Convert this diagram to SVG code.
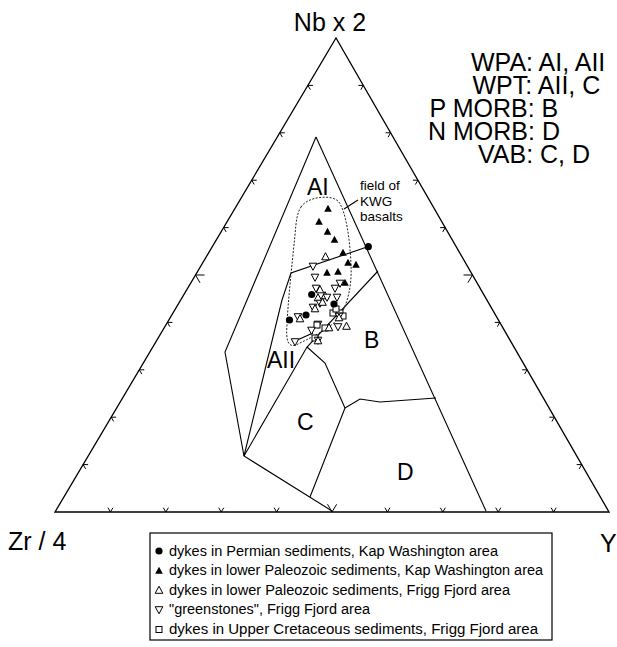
<svg xmlns="http://www.w3.org/2000/svg" width="617" height="647" viewBox="0 0 617 647">
<style>
.frame{fill:none;stroke:#000;stroke-width:1.3}
.tick{fill:none;stroke:#000;stroke-width:1}
.field{fill:none;stroke:#000;stroke-width:1.1}
.kwg{fill:none;stroke:#222;stroke-width:1;stroke-dasharray:2 1.5}
.big{font-family:"Liberation Sans",Arial,sans-serif;font-size:25px;fill:#000}
.reg{font-family:"Liberation Sans",Arial,sans-serif;font-size:23px;fill:#000}
.small{font-family:"Liberation Sans",Arial,sans-serif;font-size:13.5px;fill:#000}
.leg{font-family:"Liberation Sans",Arial,sans-serif;font-size:14px;fill:#000}
</style>
<defs>
<circle id="fc" r="3.6" fill="#000"/>
<path id="ft" d="M0,-4.3L3.8,2.8L-3.8,2.8Z" fill="#000"/>
<path id="ot" d="M0,-4.3L3.8,2.8L-3.8,2.8Z" fill="#fff" stroke="#000" stroke-width="1"/>
<path id="it" d="M0,4.3L3.8,-2.8L-3.8,-2.8Z" fill="#fff" stroke="#000" stroke-width="1"/>
<rect id="sq" x="-3" y="-3" width="6" height="6" fill="#fff" stroke="#000" stroke-width="1"/>
</defs>
<rect width="617" height="647" fill="#fff"/>

<g id="frame">
<path class="frame" d="M55,512 L336,38 L609,512 Z"/>
<path class="tick" d="M88.1,464.6L83.1,464.6L85.6,468.9 M116.2,417.2L111.2,417.2L113.7,421.5 M144.3,369.8L139.3,369.8L141.8,374.1 M172.4,322.4L167.4,322.4L169.9,326.7 M204.5,275L195.5,275L200,282.8 M228.6,227.6L223.6,227.6L226.1,231.9 M256.7,180.2L251.7,180.2L254.2,184.5 M284.8,132.8L279.8,132.8L282.3,137.1 M312.9,85.4L307.9,85.4L310.4,89.7"/>
<path class="tick" d="M576.7,464.6L581.7,464.6L579.2,468.9 M549.4,417.2L554.4,417.2L551.9,421.5 M522.1,369.8L527.1,369.8L524.6,374.1 M494.8,322.4L499.8,322.4L497.3,326.7 M463.5,275L472.5,275L467.9,282.7 M440.2,227.6L445.2,227.6L442.7,231.9 M412.9,180.2L417.9,180.2L415.4,184.5 M385.6,132.8L390.6,132.8L388.1,137.1 M358.3,85.4L363.3,85.4L360.8,89.7"/>
<path class="tick" d="M108,507.7L110.4,512L113,507.7 M163.3,507.7L165.8,512L168.4,507.7 M218.7,507.7L221.2,512L223.8,507.7 M274.1,507.7L276.6,512L279.2,507.7 M327.5,504.2L332,512L336.6,504.3 M384.9,507.7L387.4,512L390,507.7 M440.3,507.7L442.8,512L445.4,507.7 M495.7,507.7L498.2,512L500.8,507.7 M551.1,507.7L553.6,512L556.2,507.7"/>
</g>

<g id="fields">
<path class="field" d="M316,137 L225,352 L244,456 L332,511"/>
<path class="field" d="M316,137 L486,511"/>
<path class="field" d="M244,456 L282,300 L291,273 L367,247"/>
<path class="field" d="M244,456 L307,347 L378,271"/>
<path class="field" d="M307,347 L325,363 L345,408 L310,497"/>
<path class="field" d="M345,408 L360,399 L380,402 L436,398"/>
<path class="kwg" d="M301,207 C307,197 330,194 338,201 C346,210 350,240 351,265 C352,285 348,305 338,319 C328,330 306,340 296,345 C287,348 286,338 287,325 C288,300 292,265 295,235 C296,222 297,213 301,207 Z"/>
<path class="field" d="M358,200 L344,209"/>
<path class="field" d="M295,341 L313,333"/>
</g>

<g id="labels">
<text class="big" x="330" y="31" text-anchor="middle">Nb x 2</text>
<text class="big" x="8" y="550">Zr / 4</text>
<text class="big" x="600" y="552">Y</text>
<text class="big" x="471" y="71">WPA: AI, AII</text>
<text class="big" x="472.5" y="94">WPT: AII, C</text>
<text class="big" x="429.5" y="117">P MORB: B</text>
<text class="big" x="428" y="140">N MORB: D</text>
<text class="big" x="478" y="163">VAB: C, D</text>
<text class="reg" x="307" y="195">AI</text>
<text class="reg" x="267" y="368">AII</text>
<text class="reg" x="364" y="348">B</text>
<text class="reg" x="297" y="430">C</text>
<text class="reg" x="397" y="480">D</text>
<text class="small" x="360" y="190">field of</text>
<text class="small" x="360" y="205.5">KWG</text>
<text class="small" x="360" y="221">basalts</text>
</g>

<g id="data">
<use href="#ft" x="328" y="209"/>
<use href="#ft" x="319" y="222"/>
<use href="#ft" x="327.5" y="232"/>
<use href="#ft" x="334.5" y="240"/>
<use href="#ft" x="343" y="253"/>
<use href="#ft" x="348" y="263"/>
<use href="#ft" x="356" y="265"/>
<use href="#ft" x="327" y="273"/>
<use href="#ft" x="338" y="272"/>
<use href="#ft" x="345" y="283"/>
<use href="#ot" x="325.5" y="257"/>
<use href="#it" x="313" y="266"/>
<use href="#it" x="315" y="277"/>
<use href="#it" x="316" y="288"/>
<use href="#it" x="335" y="288"/>
<use href="#it" x="340" y="283"/>
<use href="#ot" x="320" y="290"/>
<use href="#ot" x="325" y="296"/>
<use href="#it" x="327" y="297"/>
<use href="#it" x="337" y="297"/>
<use href="#ot" x="318" y="298"/>
<use href="#it" x="320" y="303"/>
<use href="#ot" x="322.5" y="302.5"/>
<use href="#it" x="313" y="307"/>
<use href="#ot" x="315" y="309"/>
<use href="#it" x="298" y="316.5"/>
<use href="#ot" x="300" y="319"/>
<use href="#sq" x="333" y="313"/>
<use href="#sq" x="340" y="313"/>
<use href="#sq" x="336" y="309"/>
<use href="#sq" x="343" y="316"/>
<use href="#it" x="339" y="316"/>
<use href="#ot" x="339" y="318"/>
<use href="#it" x="318" y="324"/>
<use href="#sq" x="317" y="325"/>
<use href="#sq" x="325" y="328"/>
<use href="#ot" x="329" y="328"/>
<use href="#it" x="338" y="326.5"/>
<use href="#ot" x="346.5" y="326.5"/>
<use href="#it" x="311.5" y="330"/>
<use href="#sq" x="315" y="338"/>
<use href="#it" x="318" y="340"/>
<use href="#ot" x="318" y="341"/>
<use href="#it" x="295" y="341.5"/>
<use href="#fc" x="368.3" y="246.7"/>
<use href="#fc" x="311.7" y="294.5"/>
<use href="#fc" x="334" y="304"/>
<use href="#fc" x="289.5" y="320"/>
<use href="#fc" x="306" y="315"/>
</g>

<g id="legend">
<rect x="150" y="533" width="402" height="107" fill="none" stroke="#000" stroke-width="1.2"/>
<use href="#fc" x="159" y="551"/>
<use href="#ft" x="159" y="571"/>
<use href="#ot" x="159" y="590.5"/>
<use href="#it" x="159" y="609.5"/>
<use href="#sq" x="159" y="629.5"/>
<text class="leg" x="169" y="555.5" textLength="329" lengthAdjust="spacingAndGlyphs">dykes in Permian sediments, Kap Washington area</text>
<text class="leg" x="169" y="575" textLength="374" lengthAdjust="spacingAndGlyphs">dykes in lower Paleozoic sediments, Kap Washington area</text>
<text class="leg" x="169" y="594.5" textLength="341" lengthAdjust="spacingAndGlyphs">dykes in lower Paleozoic sediments, Frigg Fjord area</text>
<text class="leg" x="169" y="614" textLength="201" lengthAdjust="spacingAndGlyphs">"greenstones", Frigg Fjord area</text>
<text class="leg" x="169" y="633.5" textLength="369" lengthAdjust="spacingAndGlyphs">dykes in Upper Cretaceous sediments, Frigg Fjord area</text>
</g>
</svg>
